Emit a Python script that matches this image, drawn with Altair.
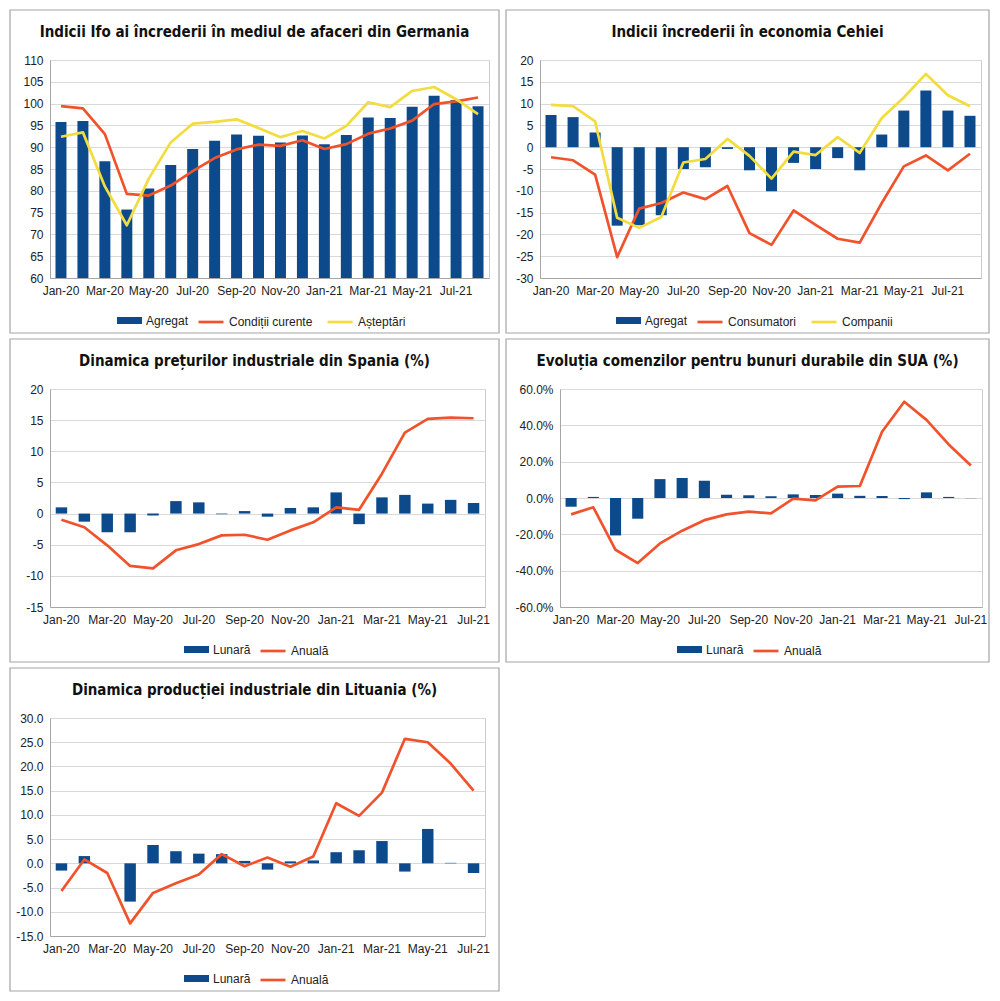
import altair as alt
import pandas as pd

# ---------------- data ----------------
MONTHS = ["Jan-20", "Feb-20", "Mar-20", "Apr-20", "May-20", "Jun-20", "Jul-20", "Aug-20",
          "Sep-20", "Oct-20", "Nov-20", "Dec-20", "Jan-21", "Feb-21", "Mar-21", "Apr-21",
          "May-21", "Jun-21", "Jul-21", "Aug-21"]
months_20 = MONTHS
months_19 = MONTHS[:19]

# Germany - Ifo
de_agregat = [95.8, 96.0, 86.8, 75.7, 80.5, 85.9, 89.6, 91.5, 92.9, 92.6, 91.1, 92.7,
              90.7, 92.8, 96.8, 96.7, 99.3, 101.8, 100.8, 99.4]
de_curente = [99.4, 98.9, 93.0, 79.3, 78.9, 81.2, 84.5, 87.5, 89.5, 90.6, 90.3, 91.6,
              89.6, 90.7, 93.1, 94.3, 96.1, 99.9, 100.5, 101.4]
de_asteptari = [92.4, 93.4, 81.0, 72.1, 82.8, 91.1, 95.4, 95.8, 96.4, 94.4, 92.3, 93.7,
                92.0, 94.9, 100.3, 99.2, 102.9, 103.8, 101.0, 97.6]

# Czech confidence
cz_agregat = [7.4, 6.9, 3.4, -18.0, -17.9, -15.6, -5.0, -4.6, -0.4, -5.3, -10.1, -3.6,
              -5.0, -2.5, -5.3, 2.9, 8.4, 13.0, 8.4, 7.2]
cz_consumatori = [-2.3, -3.0, -6.3, -25.2, -14.1, -12.8, -10.4, -11.9, -8.9, -19.7, -22.4, -14.5,
                  -17.8, -21.0, -21.9, -12.8, -4.4, -1.9, -5.3, -1.5]
cz_companii = [9.7, 9.4, 5.9, -16.2, -18.5, -16.0, -3.5, -2.7, 1.9, -2.0, -7.2, -1.0,
               -1.8, 2.3, -1.3, 6.7, 11.4, 16.8, 11.9, 9.4]

# Spain industrial prices
es_lunara = [1.0, -1.3, -3.0, -3.0, -0.3, 2.0, 1.8, -0.1, 0.4, -0.5, 0.9, 1.0,
             3.4, -1.7, 2.6, 3.0, 1.6, 2.2, 1.7]
es_anuala = [-1.0, -2.2, -5.1, -8.4, -8.8, -5.9, -4.9, -3.5, -3.4, -4.2, -2.7, -1.4,
             1.0, 0.6, 6.4, 13.0, 15.2, 15.4, 15.3]

# USA durable goods orders (%)
us_lunara = [-4.8, 0.6, -20.6, -11.4, 10.4, 11.0, 9.5, 1.8, 1.5, 0.9, 2.0, 1.6,
             2.4, 1.2, 1.1, -0.6, 3.1, 0.6, -0.1]
us_anuala = [-9.0, -5.1, -28.5, -35.8, -25.0, -18.0, -12.2, -9.0, -7.5, -8.5, -0.3, -1.3,
             6.3, 6.6, 36.5, 53.0, 43.0, 29.5, 17.9]

# Lithuania industrial production
lt_lunara = [-1.5, 1.5, 0.0, -7.9, 3.8, 2.5, 2.0, 1.9, 0.5, -1.3, 0.4, 0.6,
             2.3, 2.7, 4.6, -1.7, 7.1, 0.1, -2.0]
lt_anuala = [-5.7, 0.8, -2.0, -12.4, -6.1, -4.1, -2.3, 1.9, -0.6, 1.2, -0.7, 1.4,
             12.4, 9.8, 14.6, 25.7, 25.0, 20.6, 15.0]

NAVY = "#0c4a8c"
ORANGE = "#f0532b"
YELLOW = "#f3dc3e"

TFONT = "DejaVu Sans Condensed, DejaVu Sans, sans-serif"
LFONT = "Liberation Sans"
TXT = "#222222"
MINUS = "\u2212"


def panel(title, months, bar_name, bar_vals, line_names, line_vals, line_colors,
          ydom, yticks, yfmt, suffix, base, geom):
    left, pw, right, top, ph, bottom, lx_fill, lx_stroke = geom
    ly = ph + 30
    xscale = alt.Scale(paddingInner=0.5, paddingOuter=0.25)
    yscale = alt.Scale(domain=ydom, nice=False, zero=False)
    label_expr = f"replace(format(datum.value, '{yfmt}'), '{MINUS}', '-')" + suffix
    xaxis = alt.Axis(values=months[::2], title=None, labelAngle=0, ticks=False,
                     domainColor="#a6a6a6", labelFont=LFONT, labelFontSize=12,
                     labelColor=TXT, labelPadding=7, grid=False, labelOverlap=False)
    yaxis = alt.Axis(values=yticks, title=None, ticks=False, grid=True,
                     gridColor="#d9d9d9", domainColor="#a6a6a6", labelExpr=label_expr,
                     labelFont=LFONT, labelFontSize=12, labelColor=TXT,
                     labelPadding=7, labelOverlap=False)

    bdf = pd.DataFrame({"m": months, "v": bar_vals, "s": bar_name})
    rows = []
    for name, vals in zip(line_names, line_vals):
        for i, (m, v) in enumerate(zip(months, vals)):
            rows.append({"m": m, "v": v, "s": name, "i": i})
    ldf = pd.DataFrame(rows)

    border = alt.Chart(pd.DataFrame({"b": [0]})).mark_rect(
        fill="white", fillOpacity=0, stroke="#a4a4a4", strokeWidth=1.2
    ).encode(
        x=alt.value(-left), x2=alt.value(pw + right),
        y=alt.value(-top), y2=alt.value(ph + bottom),
    )

    bars = alt.Chart(bdf).mark_bar().encode(
        x=alt.X("m:N", sort=months, scale=xscale, axis=xaxis),
        y=alt.Y("v:Q", scale=yscale, axis=yaxis),
        y2=alt.datum(base),
        fill=alt.Fill("s:N", scale=alt.Scale(domain=[bar_name], range=[NAVY]),
                      legend=alt.Legend(orient="none", legendX=lx_fill, legendY=ly,
                                        title=None, direction="horizontal",
                                        symbolType="M-1,-0.28H1V0.28H-1Z", symbolSize=625,
                                        symbolStrokeWidth=0, labelFont=LFONT,
                                        labelFontSize=12, labelColor=TXT, labelOffset=4)),
    )

    lines = alt.Chart(ldf).mark_line(strokeWidth=2.7, strokeJoin="round").encode(
        x=alt.X("m:N", sort=months, scale=xscale, axis=xaxis),
        y=alt.Y("v:Q", scale=yscale, axis=yaxis),
        order=alt.Order("i:Q"),
        stroke=alt.Stroke("s:N", scale=alt.Scale(domain=line_names, range=line_colors),
                          legend=alt.Legend(orient="none", legendX=lx_stroke, legendY=ly,
                                            title=None, direction="horizontal",
                                            symbolType="stroke", symbolSize=625,
                                            symbolStrokeWidth=2.7, columnPadding=9,
                                            labelFont=LFONT, labelFontSize=12,
                                            labelColor=TXT, labelOffset=4)),
    )

    ttl = alt.Chart(pd.DataFrame({"t": [title]})).mark_text(
        font=TFONT, fontSize=15, fontWeight="bold", color="#111111",
        align="center", baseline="middle"
    ).encode(
        x=alt.value((left + pw + right) / 2 - left),
        y=alt.value(-top + 22),
        text="t:N",
    )

    return alt.layer(border, bars, lines, ttl).properties(width=pw, height=ph)


# geometry: left, plot width, right, top, plot height, bottom, legend x (fill), legend x (stroke)
G1 = (40, 439, 10, 50, 218, 55, 67, 147)
G2 = (34, 441, 8, 50, 218, 55, 76, 156)
G3 = (40, 435, 14, 50, 218, 55, 134, 209)
G4 = (54, 422, 7, 50, 218, 55, 117, 192)
G5 = (40, 435, 14, 50, 218, 55, 134, 209)

p1 = panel("Indicii Ifo ai încrederii în mediul de afaceri din Germania", months_20,
           "Agregat", de_agregat, ["Condiții curente", "Așteptări"],
           [de_curente, de_asteptari], [ORANGE, YELLOW],
           [60, 110], list(range(60, 111, 5)), ".0f", "", 60, G1)
p2 = panel("Indicii încrederii în economia Cehiei", months_20,
           "Agregat", cz_agregat, ["Consumatori", "Companii"],
           [cz_consumatori, cz_companii], [ORANGE, YELLOW],
           [-30, 20], list(range(-30, 21, 5)), ".0f", "", 0, G2)
p3 = panel("Dinamica prețurilor industriale din Spania (%)", months_19,
           "Lunară", es_lunara, ["Anuală"], [es_anuala], [ORANGE],
           [-15, 20], list(range(-15, 21, 5)), ".0f", "", 0, G3)
p4 = panel("Evoluția comenzilor pentru bunuri durabile din SUA (%)", months_19,
           "Lunară", us_lunara, ["Anuală"], [us_anuala], [ORANGE],
           [-60, 60], list(range(-60, 61, 20)), ".1f", " + '%'", 0, G4)
p5 = panel("Dinamica producției industriale din Lituania (%)", months_19,
           "Lunară", lt_lunara, ["Anuală"], [lt_anuala], [ORANGE],
           [-15, 30], list(range(-15, 31, 5)), ".1f", "", 0, G5)


def indep(c):
    return c.resolve_scale(
        x="independent", y="independent", fill="independent", stroke="independent"
    ).resolve_legend(fill="independent", stroke="independent")


row1 = indep(alt.hconcat(p1, p2, spacing=3))
row2 = indep(alt.hconcat(p3, p4, spacing=3))
row3 = indep(alt.hconcat(p5, spacing=3))

chart = indep(alt.vconcat(row1, row2, row3, spacing=2)).configure_view(
    stroke="#cccccc"
).properties(
    padding=0, background="white"
)

chart.save("out.html", embed_options={"renderer": "svg", "actions": False})
